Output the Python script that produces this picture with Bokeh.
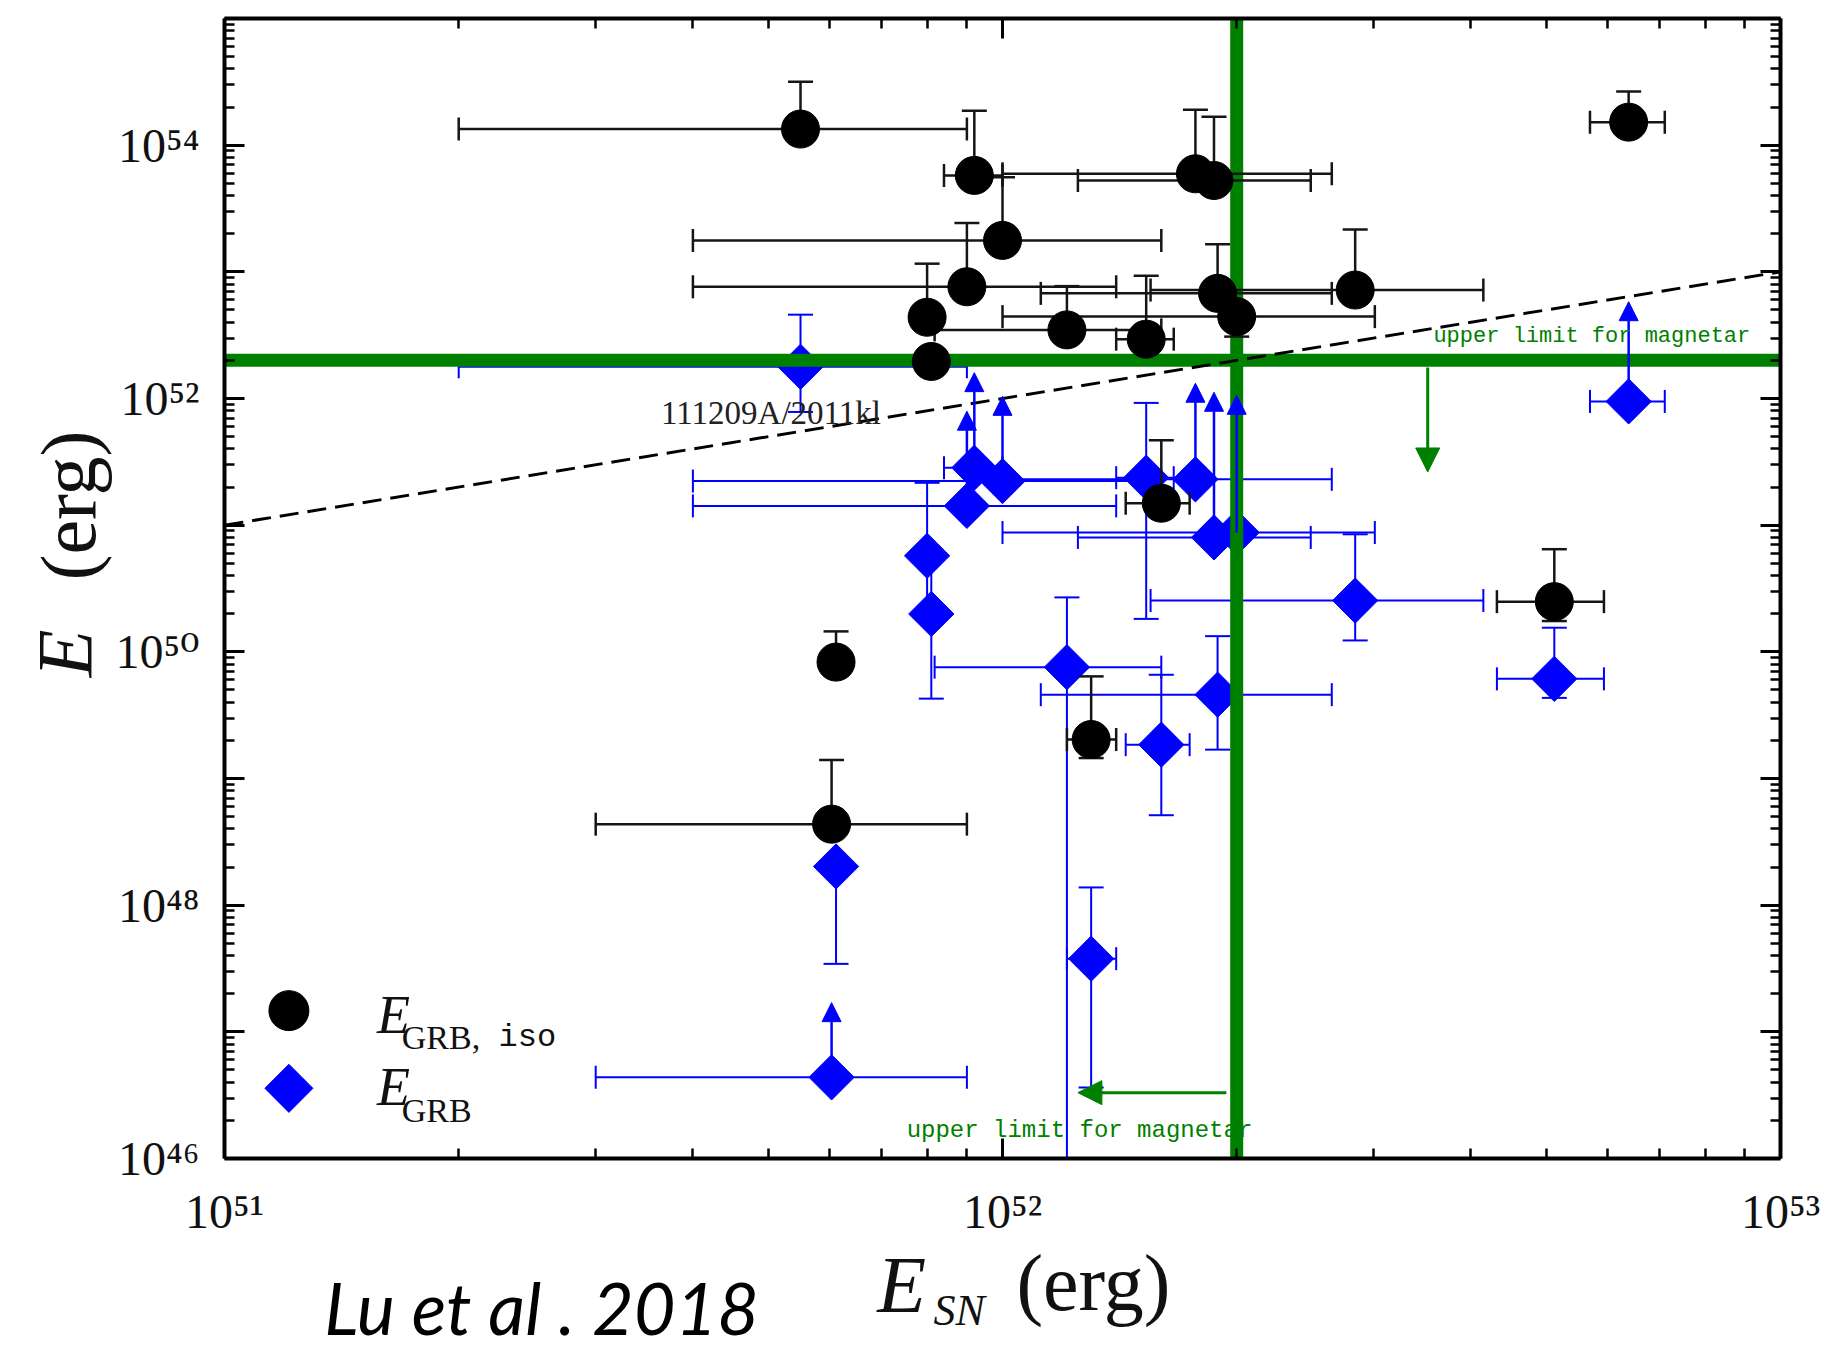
import numpy as np
from bokeh.plotting import figure
from bokeh.layouts import row, column
from bokeh.models import (ColumnDataSource, FixedTicker, CustomJSTickFormatter,
                          LogAxis, Label, Arrow, NormalHead, Range1d)
from bokeh.embed import file_html
from bokeh.resources import INLINE

nan = float("nan")

# ---------------- data (19 GRB/SN events) ----------------
E_SN = [5.5e51, 9.2e51, 1.77e52, 1.87e52, 1.0e52, 9.0e51, 8.0e51, 1.21e52, 1.53e52, 1.89e52,
        2.0e52, 2.84e52, 8.1e51, 6.38e52, 5.12e52, 6.11e51, 1.30e52, 1.60e52, 6.03e51]
E_SN_LO = [2.0e51, 8.41e51, 1.0e52, 1.25e52, 4.0e51, 4.0e51, nan, 8.18e51, 1.40e52, 1.12e52,
           1.0e52, 1.55e52, nan, 5.69e52, 4.32e52, nan, 1.21e52, 1.44e52, 3.0e51]
E_SN_HI = [9.0e51, 1.0e52, 2.65e52, 2.49e52, 1.60e52, 1.40e52, nan, 1.60e52, 1.66e52, 2.65e52,
           3.01e52, 4.15e52, nan, 7.10e52, 5.93e52, nan, 1.40e52, 1.74e52, 9.0e51]

E_ISO = [1.34e54, 5.77e53, 5.94e53, 5.26e53, 1.77e53, 7.62e52, 4.38e52, 3.48e52, 2.94e52, 6.76e52,
         4.43e52, 7.18e52, 1.96e52, 1.52e54, 2.49e50, 8.30e49, 2.03e49, 1.49e51, 4.36e48]
E_ISO_LO = [nan, nan, nan, nan, nan, nan, nan, nan, nan, nan,
            3.08e52, nan, nan, nan, 1.75e50, nan, 1.45e49, nan, nan]
E_ISO_HI = [3.16e54, 1.87e54, 1.90e54, 1.68e54, 5.58e53, 2.43e53, 1.16e53, 7.71e52, 9.31e52, 1.65e53,
            nan, 2.16e53, nan, 2.65e54, 6.46e50, 1.45e50, 6.40e49, 4.68e51, 1.40e49]

E_GRB = [1.78e52, 2.84e51, 2.30e51, 8.0e50, 2.23e51, 1.42e51, 5.73e50, 7.57e49, 2.37e51, 4.59e49,
         8.75e50, 2.54e50, 1.99e50, 9.48e51, 6.12e49, 2.02e48, 3.78e47, 1.85e49, 4.37e46]
E_GRB_LO = [7.83e51, nan, nan, nan, nan, nan, 2.0e50, 1e44, 1.82e50, 1.69e49,
            nan, 1.23e50, 4.27e49, nan, 4.33e49, 3.44e47, 3.63e46, 5.13e48, nan]
E_GRB_HI = [4.59e52, nan, nan, nan, nan, nan, 2.16e51, 2.69e50, 9.23e51, 1.33e50,
            nan, 8.47e50, 5.75e50, nan, 1.55e50, nan, 1.38e48, 6.59e49, nan]
# lower limits (arrow tips)
E_GRB_LIMIT = [nan, 1.60e52, 1.32e52, 1.12e52, 1.04e52, 7.94e51, nan, nan, nan, nan,
               1.06e52, nan, nan, 5.81e52, nan, nan, nan, nan, 1.70e47]

MAGNETAR_LIMIT = 2e52
DIAGONAL = [1e51, 1e53]
X_RANGE = (1e51, 1e53)
Y_RANGE = (1e46, 1e55)
X_MAJOR = [1e51, 1e52, 1e53]
X_MINOR = [m * 10.0 ** k for k in range(51, 53) for m in range(2, 10)]
Y_MAJOR = [10.0 ** k for k in range(46, 56)]
Y_MINOR = [m * 10.0 ** k for k in range(46, 55) for m in range(2, 10)]

# annotations
GREEN_ARROW_X0 = [3.52e52, 1.94e52]
GREEN_ARROW_Y0 = [1.76e52, 3.31e46]
GREEN_ARROW_X1 = [3.52e52, 1.25e52]
GREEN_ARROW_Y1 = [2.63e51, 3.31e46]

BLACK = "#000000"
LINE_BLACK = "#151515"
TEXT = "#111111"
BLUE = "#0000FF"
GREEN = "#008000"
SERIF = "Liberation Serif, DejaVu Serif, serif"

sn = np.array(E_SN, dtype=float)
sn_lo = np.array(E_SN_LO, dtype=float)
sn_hi = np.array(E_SN_HI, dtype=float)

W, H = 1830, 1352
FRAME_L, FRAME_R, FRAME_T, FRAME_B = 222, 1780, 18, 1161
LEFT_W = 112
BOTTOM_H = 112

p = figure(width=W - LEFT_W, height=H - BOTTOM_H, x_axis_type="log", y_axis_type="log",
           x_range=Range1d(*X_RANGE), y_range=Range1d(*Y_RANGE),
           output_backend="svg", toolbar_location=None, title=None,
           min_border_left=FRAME_L - LEFT_W, min_border_right=W - FRAME_R, min_border_top=FRAME_T,
           min_border_bottom=(H - BOTTOM_H) - FRAME_B)
p.grid.visible = False
p.outline_line_color = None
p.background_fill_color = "white"
p.border_fill_color = "white"

SUP_CODE = """
const sup = {"0":"\\u2070","1":"\\u00b9","2":"\\u00b2","3":"\\u00b3","4":"\\u2074","5":"\\u2075","6":"\\u2076","7":"\\u2077","8":"\\u2078","9":"\\u2079","-":"\\u207b"};
const e = Math.round(Math.log10(tick));
if (STEP > 1 && e % STEP != 0) { return ""; }
return "10" + String(e).split("").map(c => sup[c]).join("");
"""


def style_axis(ax, ticks, minor, step, labels=True):
    ax.ticker = FixedTicker(ticks=ticks, minor_ticks=minor)
    ax.axis_line_width = 4
    ax.axis_line_color = "black"
    ax.major_tick_in = 20
    ax.major_tick_out = 0
    ax.minor_tick_in = 10
    ax.minor_tick_out = 0
    ax.major_tick_line_width = 3
    ax.minor_tick_line_width = 2.5
    ax.major_tick_line_color = "black"
    ax.minor_tick_line_color = "black"
    ax.axis_label = None
    if labels:
        ax.formatter = CustomJSTickFormatter(code=SUP_CODE.replace("STEP", str(step)))
        ax.major_label_text_font = SERIF
        ax.major_label_text_font_size = "48px"
        ax.major_label_text_color = TEXT
    else:
        ax.formatter = CustomJSTickFormatter(code="return '';")
        ax.major_label_text_font_size = "0px"
        ax.major_label_standoff = 0


style_axis(p.xaxis[0], X_MAJOR, X_MINOR, 1)
p.xaxis[0].major_label_standoff = 26
style_axis(p.yaxis[0], Y_MAJOR, Y_MINOR, 2)
p.yaxis[0].major_label_standoff = 25

top_axis = LogAxis()
style_axis(top_axis, X_MAJOR, X_MINOR, 1, labels=False)
p.add_layout(top_axis, "above")
right_axis = LogAxis()
style_axis(right_axis, Y_MAJOR, Y_MINOR, 2, labels=False)
p.add_layout(right_axis, "right")


def error_bars(yv, ylo, yhi, color, lw):
    y = np.array(yv, dtype=float)
    lo = np.array(ylo, dtype=float)
    hi = np.array(yhi, dtype=float)
    m = np.isfinite(sn_lo)
    p.segment(x0=sn_lo[m], y0=y[m], x1=sn_hi[m], y1=y[m], line_color=color, line_width=lw)
    p.scatter(x=np.r_[sn_lo[m], sn_hi[m]], y=np.r_[y[m], y[m]], marker="dash",
              angle=np.pi / 2, size=23, line_color=color, line_width=lw)
    m = np.isfinite(hi)
    p.segment(x0=sn[m], y0=y[m], x1=sn[m], y1=hi[m], line_color=color, line_width=lw)
    p.scatter(x=sn[m], y=hi[m], marker="dash", size=25, line_color=color, line_width=lw)
    m = np.isfinite(lo)
    p.segment(x0=sn[m], y0=lo[m], x1=sn[m], y1=y[m], line_color=color, line_width=lw)
    p.scatter(x=sn[m], y=lo[m], marker="dash", size=25, line_color=color, line_width=lw)


# blue: collimation-corrected energies
error_bars(E_GRB, E_GRB_LO, E_GRB_HI, BLUE, 2)
lim = np.array(E_GRB_LIMIT, dtype=float)
grb = np.array(E_GRB, dtype=float)
ml = np.isfinite(lim)
p.add_layout(Arrow(end=NormalHead(size=19, fill_color=BLUE, line_color=BLUE, line_width=1),
                   x_start="x0", y_start="y0", x_end="x1", y_end="y1",
                   source=ColumnDataSource(dict(x0=sn[ml], y0=grb[ml], x1=sn[ml], y1=lim[ml])),
                   line_color=BLUE, line_width=2.5))
p.scatter(x=sn, y=grb, marker="square", angle=np.pi / 4, size=32,
          fill_color=BLUE, line_color=BLUE, line_width=1)

# magnetar upper limits
p.segment(x0=[X_RANGE[0]], y0=[MAGNETAR_LIMIT], x1=[X_RANGE[1]], y1=[MAGNETAR_LIMIT],
          line_color=GREEN, line_width=13)
p.segment(x0=[MAGNETAR_LIMIT], y0=[Y_RANGE[0]], x1=[MAGNETAR_LIMIT], y1=[Y_RANGE[1]],
          line_color=GREEN, line_width=13)

# E = E_SN line
p.line(x=DIAGONAL, y=DIAGONAL, line_color="black", line_width=3, line_dash="19 9")

# black: isotropic energies
error_bars(E_ISO, E_ISO_LO, E_ISO_HI, LINE_BLACK, 2.5)
p.scatter(x=sn, y=np.array(E_ISO, dtype=float), marker="circle", size=38,
          fill_color=BLACK, line_color=BLACK)

# green arrows
p.add_layout(Arrow(end=NormalHead(size=24, fill_color=GREEN, line_color=GREEN, line_width=1),
                   x_start="x0", y_start="y0", x_end="x1", y_end="y1",
                   source=ColumnDataSource(dict(x0=GREEN_ARROW_X0, y0=GREEN_ARROW_Y0,
                                                x1=GREEN_ARROW_X1, y1=GREEN_ARROW_Y1)),
                   line_color=GREEN, line_width=3))

# text annotations
p.add_layout(Label(x=3.58e52, y=3.06e52, text="upper limit for magnetar", text_font="Liberation Mono",
                   text_font_size="22px", text_color=GREEN, text_align="left", text_baseline="middle"))
p.add_layout(Label(x=7.53e51, y=1.67e46, text="upper limit for magnetar", text_font="Liberation Mono",
                   text_font_size="24px", text_color=GREEN, text_align="left", text_baseline="middle"))
p.add_layout(Label(x=3.64e51, y=7.66e51, text="111209A/2011kl", text_font=SERIF,
                   text_font_size="33px", text_color="#222222", text_align="left", text_baseline="middle"))

# legend (manual, because of the subscripts)
LEGEND_KEY_X = 1.21e51
LEGEND_KEY_Y = [1.47e47, 3.58e46]
p.scatter(x=[LEGEND_KEY_X], y=[LEGEND_KEY_Y[0]], marker="circle", size=40, fill_color=BLACK, line_color=BLACK)
p.scatter(x=[LEGEND_KEY_X], y=[LEGEND_KEY_Y[1]], marker="square", angle=np.pi / 4, size=34,
          fill_color=BLUE, line_color=BLUE)
p.add_layout(Label(x=1.57e51, y=1.37e47, text="E", text_font=SERIF, text_font_style="italic",
                   text_font_size="54px", text_color=TEXT, text_align="left", text_baseline="middle"))
p.add_layout(Label(x=1.69e51, y=9.0e46, text="GRB,", text_font=SERIF,
                   text_font_size="34px", text_color=TEXT, text_align="left", text_baseline="middle"))
p.add_layout(Label(x=2.25e51, y=9.0e46, text="iso", text_font="Liberation Mono",
                   text_font_size="32px", text_color=TEXT, text_align="left", text_baseline="middle"))
p.add_layout(Label(x=1.57e51, y=3.65e46, text="E", text_font=SERIF, text_font_style="italic",
                   text_font_size="54px", text_color=TEXT, text_align="left", text_baseline="middle"))
p.add_layout(Label(x=1.69e51, y=2.38e46, text="GRB", text_font=SERIF,
                   text_font_size="34px", text_color=TEXT, text_align="left", text_baseline="middle"))


def text_strip(width, height, x0, x1, border_l=0, border_r=0):
    # frame spans page x0..x1; data x = page x, data y = page height - page y
    f = figure(width=width, height=height, x_range=Range1d(x0, x1),
               y_range=Range1d(0, height), output_backend="svg", toolbar_location=None,
               title=None, x_axis_location=None, y_axis_location=None,
               min_border_left=border_l, min_border_right=border_r,
               min_border_top=0, min_border_bottom=0)
    f.grid.visible = False
    f.outline_line_color = None
    f.background_fill_color = "white"
    f.border_fill_color = "white"
    return f


# y-axis title strip
left = text_strip(LEFT_W, H, 0, LEFT_W)
left.add_layout(Label(x=64, y=H - 653, text="E", text_font=SERIF, text_font_style="italic",
                      text_font_size="78px", text_color=TEXT, angle=np.pi / 2,
                      text_align="center", text_baseline="middle"))
left.add_layout(Label(x=68, y=H - 505, text="(erg)", text_font=SERIF,
                      text_font_size="78px", text_color=TEXT, angle=np.pi / 2,
                      text_align="center", text_baseline="middle"))

# x-axis title strip and citation; frame aligned with the main frame
bottom = text_strip(W - LEFT_W, BOTTOM_H, FRAME_L, FRAME_R,
                    border_l=FRAME_L - LEFT_W, border_r=W - FRAME_R)
YB = H  # data y = H - page y
bottom.add_layout(Label(x=900, y=YB - 1284, text="E", text_font=SERIF, text_font_style="italic",
                        text_font_size="80px", text_color=TEXT, text_align="center", text_baseline="middle"))
bottom.add_layout(Label(x=932, y=YB - 1310, text="SN", text_font=SERIF, text_font_style="italic",
                        text_font_size="44px", text_color=TEXT, text_align="left", text_baseline="middle"))
bottom.add_layout(Label(x=1092, y=YB - 1282, text="(erg)", text_font=SERIF,
                        text_font_size="80px", text_color=TEXT, text_align="center", text_baseline="middle"))
bottom.add_layout(Label(x=322, y=YB - 1306, text="Lu et al . 2018", text_font="Lato", text_font_style="italic",
                        text_font_size="72px", text_color="#000000", text_align="left",
                        text_baseline="middle"))

layout = row(left, column(p, bottom, spacing=0), spacing=0)
open("out.html", "w", encoding="utf-8").write(file_html(layout, INLINE))
